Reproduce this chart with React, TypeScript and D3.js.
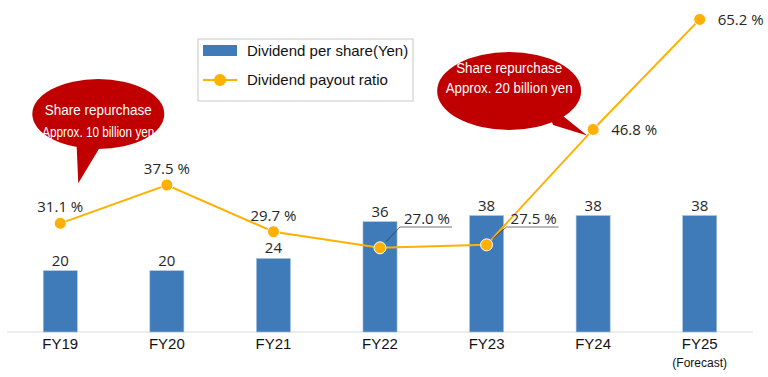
import React from "react";
import * as d3 from "d3";

const categories = ["FY19", "FY20", "FY21", "FY22", "FY23", "FY24", "FY25"];
const subLabels = ["", "", "", "", "", "", "(Forecast)"];
const dividendPerShare = [20, 20, 24, 36, 38, 38, 38];
const payoutRatio = [31.1, 37.5, 29.7, 27.0, 27.5, 46.8, 65.2];
const payoutLabels = ["31.1 %", "37.5 %", "29.7 %", "27.0 %", "27.5 %", "46.8 %", "65.2 %"];
const legendLabels = ["Dividend per share(Yen)", "Dividend payout ratio"];
const callouts = [
  { at: "FY19", lines: ["Share repurchase", "Approx. 10 billion yen"] },
  { at: "FY24", lines: ["Share repurchase", "Approx. 20 billion yen"] },
];

const W = 768;
const H = 377;
const BAR = "#3f7bb9";
const LINE = "#ffb000";
const RED = "#c00000";
const TXT = "#262626";
const NUMFONT = "'Open Sans', 'Noto Sans', sans-serif";
const LATFONT = "'Liberation Sans', Arial, sans-serif";

// label placement style per point: above, leader (with underline), right
const labelMode = ["above", "above", "above", "leader", "leader", "right", "right"];

export default function App() {
  const x = d3.scaleBand<string>().domain(categories).range([7, 753]).paddingInner(0.68).paddingOuter(0.34);
  const y = d3.scaleLinear().domain([0, 100]).range([332, 25.5]);
  const yr = d3.scaleLinear().domain([0, 70]).range([409.3, -9.3]);
  const cx = (c: string) => (x(c) as number) + x.bandwidth() / 2;

  const linePts: [number, number][] = categories.map((c, i) => [cx(c), yr(payoutRatio[i])]);
  const linePath = d3.line()(linePts) || "";

  const c1x = cx(callouts[0].at);
  const c2x = cx(callouts[1].at);

  return (
    <svg width={W} height={H} style={{ position: "absolute", left: 0, top: 0, background: "#fff" }}>
      {/* axis baseline */}
      <line x1={7} x2={753} y1={y(0)} y2={y(0)} stroke="#d9d9d9" strokeWidth={1} />

      {/* bars */}
      {categories.map((c, i) => (
        <g key={c}>
          <rect
            x={x(c)}
            y={y(dividendPerShare[i])}
            width={x.bandwidth()}
            height={y(0) - y(dividendPerShare[i])}
            fill={BAR}
            stroke="#a9c4e4"
            strokeWidth={0.6}
          />
          <text
            x={cx(c)}
            y={y(dividendPerShare[i]) - 5}
            textAnchor="middle"
            fontFamily={NUMFONT}
            fontSize={15}
            fill={TXT}
          >
            {dividendPerShare[i]}
          </text>
          <text x={cx(c)} y={349} textAnchor="middle" fontFamily={LATFONT} fontSize={15} fill="#111">
            {c}
          </text>
          {subLabels[i] && (
            <text x={cx(c)} y={367} textAnchor="middle" fontFamily={LATFONT} fontSize={12} fill="#111">
              {subLabels[i]}
            </text>
          )}
        </g>
      ))}

      {/* callouts */}
      <g>
        <path
          d={`M ${c1x + 16} ${138} L ${c1x + 18} ${yr(payoutRatio[0]) - 40} L ${c1x + 44} ${140} Z`}
          fill={RED}
        />
        <ellipse cx={c1x + 38} cy={114} rx={66} ry={35} fill={RED} />
        {callouts[0].lines.map((t, k) => (
          <text
            key={k}
            x={c1x + 38}
            y={114 + 1 + k * 22}
            textAnchor="middle"
            fontFamily={LATFONT}
            fontSize={14}
            fill="#fff"
            textLength={k === 0 ? 107 : 112}
            lengthAdjust="spacingAndGlyphs"
          >
            {t}
          </text>
        ))}
      </g>
      <g>
        <path
          d={`M ${c2x - 50} ${100} L ${c2x - 6} ${yr(payoutRatio[5]) + 6} L ${c2x - 40} ${125} Z`}
          fill={RED}
        />
        <ellipse cx={c2x - 84} cy={91} rx={72} ry={39} fill={RED} />
        {callouts[1].lines.map((t, k) => (
          <text
            key={k}
            x={c2x - 84}
            y={91 - 18 + k * 20}
            textAnchor="middle"
            fontFamily={LATFONT}
            fontSize={14}
            fill="#fff"
            textLength={k === 0 ? 106 : 127}
            lengthAdjust="spacingAndGlyphs"
          >
            {t}
          </text>
        ))}
      </g>

      {/* line */}
      <path d={linePath} fill="none" stroke={LINE} strokeWidth={2} />
      {linePts.map(([px, py], i) => (
        <circle key={i} cx={px} cy={py} r={6} fill={LINE} stroke="#fff" strokeWidth={1} />
      ))}

      {/* line labels */}
      {linePts.map(([px, py], i) => {
        const mode = labelMode[i];
        if (mode === "above") {
          return (
            <text key={i} x={px} y={py - 11} textAnchor="middle" fontFamily={NUMFONT} fontSize={15} fill={TXT}>
              {payoutLabels[i]}
            </text>
          );
        }
        if (mode === "leader") {
          return (
            <g key={i}>
              <polyline
                points={`${px + 6},${py - 6} ${px + 20},${y(0) - 105} ${px + 72},${y(0) - 105}`}
                fill="none"
                stroke="#333"
                strokeWidth={0.7}
              />
              <text x={px + 47} y={y(0) - 108} textAnchor="middle" fontFamily={NUMFONT} fontSize={15} fill={TXT}>
                {payoutLabels[i]}
              </text>
            </g>
          );
        }
        return (
          <text key={i} x={px + 18} y={py + 6} textAnchor="start" fontFamily={NUMFONT} fontSize={15} fill={TXT}>
            {payoutLabels[i]}
          </text>
        );
      })}

      {/* legend */}
      <g>
        <rect x={198} y={39} width={215} height={62} fill="#fff" stroke="#c8c8c8" strokeWidth={1} />
        <rect x={203} y={45} width={34} height={11} fill={BAR} />
        <text x={247} y={56} fontFamily={LATFONT} fontSize={15} fill="#111">
          {legendLabels[0]}
        </text>
        <line x1={203} x2={237} y1={80} y2={80} stroke={LINE} strokeWidth={2} />
        <circle cx={220} cy={80} r={6} fill={LINE} />
        <text x={247} y={85} fontFamily={LATFONT} fontSize={15} fill="#111">
          {legendLabels[1]}
        </text>
      </g>
    </svg>
  );
}
